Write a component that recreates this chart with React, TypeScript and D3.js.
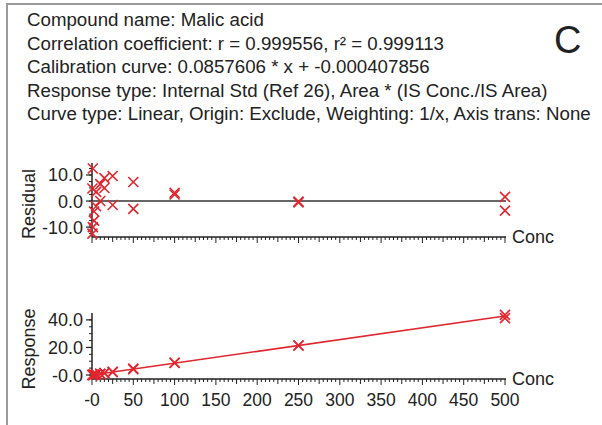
import React from "react";
import * as d3 from "d3";

// calibration report header
const headerLines = [
  "Compound name: Malic acid",
  "Correlation coefficient: r = 0.999556, r\u00b2 = 0.999113",
  "Calibration curve: 0.0857606 * x + -0.000407856",
  "Response type: Internal Std (Ref 26), Area * (IS Conc./IS Area)",
  "Curve type: Linear, Origin: Exclude, Weighting: 1/x, Axis trans: None",
];
const slope = 0.0857606;
const intercept = -0.000407856;

// calibration points (two replicates per level)
const conc = [0.5, 0.5, 1, 1, 2.5, 2.5, 5, 5, 10, 10, 15, 15, 25, 25, 50, 50, 100, 100, 250, 250, 500, 500];
const residual = [4.8, -12.5, 12.5, -10, -4, -7.5, 3.5, -2, 6.5, 0.0, 8.8, 5.0, 9.6, -1.5, 7.3, -3.0, 3.2, 2.5, -0.2, -0.5, 1.6, -3.7];
const response = [0.045, 0.037, 0.097, 0.077, 0.205, 0.198, 0.444, 0.420, 0.914, 0.858, 1.40, 1.35, 2.35, 2.11, 4.60, 4.16, 8.86, 8.81, 21.4, 21.4, 43.6, 41.3];

const xTicks = [0, 50, 100, 150, 200, 250, 300, 350, 400, 450, 500];
const residualTicks = [-10, 0, 10];
const responseTicks = [0, 20, 40];

const FONT = "'Liberation Sans', Arial, sans-serif";
const TXT = "#222";
const RED = "#e0262f";
const FS = 18;

const x = d3.scaleLinear().domain([0, 500]).range([92, 505]);
const yRes = d3.scaleLinear().domain([-13.8, 14.6]).range([237, 163]);
const yResp = d3.scaleLinear().domain([-2.9, 45]).range([379, 313]);

const Cross = ({ cx, cy }: { cx: number; cy: number }) => (
  <path
    d={`M${cx - 5},${cy - 5}L${cx + 5},${cy + 5}M${cx - 5},${cy + 5}L${cx + 5},${cy - 5}`}
    stroke={RED}
    strokeWidth={1.6}
    fill="none"
  />
);

const XAxis = ({ y0, labels }: { y0: number; labels: boolean }) => {
  const minor = d3.range(0, 501, 5);
  return (
    <g>
      <line x1={x(0)} x2={x(500) + 1} y1={y0} y2={y0} stroke={TXT} strokeWidth={1.5} />
      {minor.map((v) => {
        const len = v % 50 === 0 ? 6 : v % 25 === 0 ? 5 : 3;
        return <line key={v} x1={x(v)} x2={x(v)} y1={y0} y2={y0 + len} stroke={TXT} strokeWidth={1} />;
      })}
      {labels &&
        xTicks.map((v) => (
          <text key={v} x={x(v)} y={y0 + 27} textAnchor="middle" fontSize={17.5} fill={TXT}>
            {v === 0 ? "-0" : v}
          </text>
        ))}
      <text x={512} y={y0 + 6} fontSize={FS} fill={TXT}>
        Conc
      </text>
    </g>
  );
};

const YAxis = ({
  scale,
  ticks,
  minorStep,
  label,
  labelY,
  fmt,
}: {
  scale: d3.ScaleLinear<number, number>;
  ticks: number[];
  minorStep: number;
  label: string;
  labelY: number;
  fmt: (v: number) => string;
}) => {
  const [d0, d1] = scale.domain();
  const minor = d3.range(Math.ceil(d0 / minorStep) * minorStep, d1, minorStep);
  const x0 = x(0);
  return (
    <g>
      <line x1={x0} x2={x0} y1={scale(d1)} y2={scale(d0)} stroke={TXT} strokeWidth={1.5} />
      {minor.map((v) => (
        <line key={v} x1={x0 - 3} x2={x0} y1={scale(v)} y2={scale(v)} stroke={TXT} strokeWidth={1} />
      ))}
      {ticks.map((v) => (
        <g key={v}>
          <line x1={x0 - 6} x2={x0} y1={scale(v)} y2={scale(v)} stroke={TXT} strokeWidth={1.2} />
          <text x={x0 - 9} y={scale(v) + 6.5} textAnchor="end" fontSize={FS} fill={TXT}>
            {fmt(v)}
          </text>
        </g>
      ))}
      <text
        transform={`translate(35,${labelY}) rotate(-90)`}
        textAnchor="middle"
        fontSize={FS}
        fill={TXT}
      >
        {label}
      </text>
    </g>
  );
};

export default function App() {
  const fitLine = d3
    .line<number>()
    .x((c) => x(c))
    .y((c) => yResp(slope * c + intercept));

  return (
    <svg width={602} height={425} style={{ position: "absolute", left: 0, top: 0 }} fontFamily={FONT}>
      <rect x={0} y={0} width={602} height={425} fill="#fff" />
      <rect x={7} y={4} width={700} height={500} fill="none" stroke="#9a9a9a" strokeWidth={2} />

      {headerLines.map((t, i) => (
        <text key={i} x={27} y={26 + i * 23.5} fontSize={18.7} fill={TXT}>
          {t}
        </text>
      ))}
      <text x={554} y={53} fontSize={38} fill={TXT}>
        C
      </text>

      {/* residual panel */}
      <YAxis
        scale={yRes}
        ticks={residualTicks}
        minorStep={2.5}
        label="Residual"
        labelY={204}
        fmt={(v) => v.toFixed(1)}
      />
      <XAxis y0={237} labels={false} />
      <line x1={x(0)} x2={x(500) + 1} y1={yRes(0)} y2={yRes(0)} stroke="#333" strokeWidth={1.5} />
      {conc.map((c, i) => (
        <Cross key={i} cx={x(c)} cy={yRes(residual[i])} />
      ))}

      {/* response panel */}
      <YAxis
        scale={yResp}
        ticks={responseTicks}
        minorStep={5}
        label="Response"
        labelY={349}
        fmt={(v) => (v === 0 ? "-0.0" : v.toFixed(1))}
      />
      <XAxis y0={379} labels={true} />
      <path d={fitLine([0, 500]) ?? ""} stroke={RED} strokeWidth={1.6} fill="none" />
      {conc.map((c, i) => (
        <Cross key={i} cx={x(c)} cy={yResp(response[i])} />
      ))}
    </svg>
  );
}
